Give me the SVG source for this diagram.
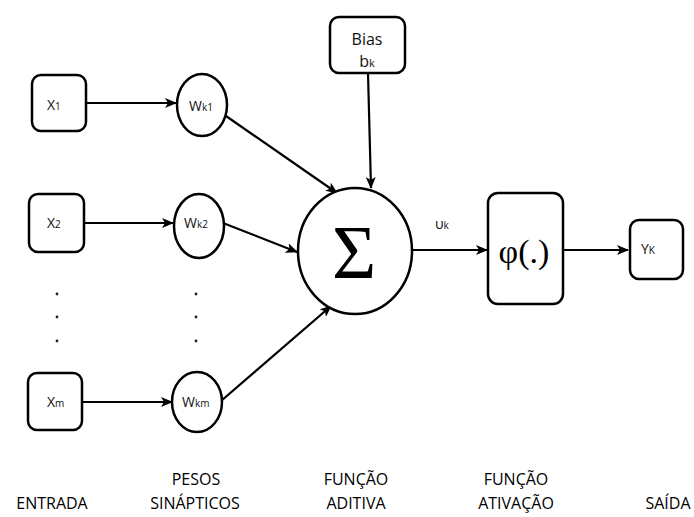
<svg xmlns="http://www.w3.org/2000/svg" width="694" height="517" viewBox="0 0 694 517">
<defs>
<style>
.n{fill:#fff;stroke:#000;stroke-width:2.5}
.c{stroke:#000;stroke-width:2.2;fill:none}
.t{font-family:"Open Sans","Liberation Sans",sans-serif;fill:#111}
.s{font-size:10px}
.lbl{font-family:"Open Sans","Liberation Sans",sans-serif;font-size:16px;fill:#000;text-anchor:middle}
.d{fill:#222}
</style>
<marker id="a" viewBox="0 0 12 10" refX="11" refY="5" markerWidth="12" markerHeight="10" markerUnits="userSpaceOnUse" orient="auto">
<path d="M0,0 L12,5 L0,10 L3,5 z" fill="#000"/>
</marker>
</defs>
<g id="connectors">
<line class="c" x1="86" y1="103" x2="176" y2="103" marker-end="url(#a)"/>
<line class="c" x1="84" y1="223" x2="173" y2="223" marker-end="url(#a)"/>
<line class="c" x1="82" y1="402" x2="172" y2="402" marker-end="url(#a)"/>
<line class="c" x1="226" y1="116" x2="337" y2="193" marker-end="url(#a)"/>
<line class="c" x1="223" y1="223" x2="297" y2="252" marker-end="url(#a)"/>
<line class="c" x1="221" y1="401" x2="331" y2="306" marker-end="url(#a)"/>
<line class="c" x1="368" y1="73" x2="371" y2="188" marker-end="url(#a)"/>
<line class="c" x1="412" y1="250" x2="487" y2="250" marker-end="url(#a)"/>
<line class="c" x1="563" y1="250" x2="628" y2="250" marker-end="url(#a)"/>
</g>
<g id="x1"><rect class="n" x="32" y="75" width="54" height="56" rx="9"/><text class="t" x="47" y="110" font-size="14">X<tspan class="s">1</tspan></text></g>
<g id="x2"><rect class="n" x="29" y="194" width="55" height="58" rx="9"/><text class="t" x="47" y="228" font-size="14">X<tspan class="s">2</tspan></text></g>
<g id="xm"><rect class="n" x="28" y="373" width="54" height="57" rx="9"/><text class="t" x="47" y="407" font-size="14">X<tspan class="s" font-size="11">m</tspan></text></g>
<g id="dots-x"><circle class="d" cx="57" cy="294" r="1.4"/><circle class="d" cx="57" cy="317" r="1.4"/><circle class="d" cx="57" cy="341" r="1.4"/></g>
<g id="dots-w"><circle class="d" cx="196" cy="294" r="1.4"/><circle class="d" cx="196" cy="317" r="1.4"/><circle class="d" cx="196" cy="341" r="1.4"/></g>
<g id="wk1"><ellipse class="n" cx="202" cy="105" rx="25" ry="31"/><text class="t" x="189" y="111" font-size="14">W<tspan class="s">k1</tspan></text></g>
<g id="wk2"><ellipse class="n" cx="199" cy="226" rx="25" ry="32"/><text class="t" x="184" y="228" font-size="14">W<tspan class="s">k2</tspan></text></g>
<g id="wkm"><ellipse class="n" cx="197" cy="402" rx="25" ry="30"/><text class="t" x="182" y="407" font-size="14">W<tspan class="s">km</tspan></text></g>
<g id="bias"><rect class="n" x="330" y="17" width="75" height="56" rx="9"/><text class="t" x="367" y="45" font-size="16" text-anchor="middle">Bias</text><text class="t" x="367" y="67" font-size="16" text-anchor="middle">b<tspan font-size="11">k</tspan></text></g>
<g id="sum"><ellipse class="n" cx="355" cy="251" rx="57" ry="63"/><text x="354" y="278" font-family="'Liberation Serif','DejaVu Serif',serif" font-size="76" text-anchor="middle" fill="#000">Σ</text></g>
<g id="vk"><text class="t" x="435" y="229" font-size="14">υ<tspan font-size="10">k</tspan></text></g>
<g id="phi"><rect class="n" x="488" y="193" width="75" height="111" rx="10"/><text x="524" y="263" font-family="'Liberation Serif','DejaVu Serif',serif" font-size="34" text-anchor="middle" fill="#000">φ(.)</text></g>
<g id="yk"><rect class="n" x="630" y="220" width="53" height="59" rx="9"/><text class="t" x="641" y="254" font-size="14">Y<tspan font-size="10">K</tspan></text></g>
<g id="labels">
<text class="lbl" x="52" y="509">ENTRADA</text>
<text class="lbl" x="196" y="485">PESOS</text>
<text class="lbl" x="195" y="509">SINÁPTICOS</text>
<text class="lbl" x="356" y="485">FUNÇÃO</text>
<text class="lbl" x="356" y="509">ADITIVA</text>
<text class="lbl" x="516" y="485">FUNÇÃO</text>
<text class="lbl" x="516" y="509">ATIVAÇÃO</text>
<text class="lbl" x="668" y="509">SAÍDA</text>
</g>
</svg>
